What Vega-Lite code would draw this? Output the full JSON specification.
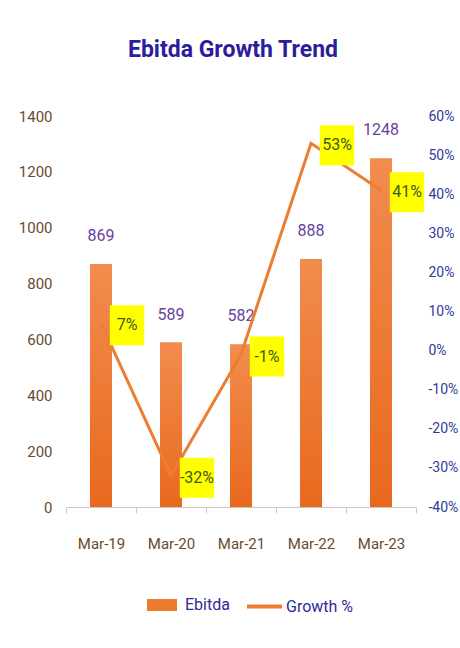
{
  "$schema": "https://vega.github.io/schema/vega-lite/v6.json",
  "width": 350,
  "height": 391,
  "autosize": "none",
  "padding": {"left": 66, "top": 116, "right": 44, "bottom": 141},
  "background": "white",
  "config": {"font": "Roboto", "view": {"stroke": null}},
  "title": {"text": "Ebitda Growth Trend", "fontSize": 23, "fontWeight": "bold", "color": "#2B1D9C", "offset": 47, "dx": -8, "anchor": "middle"},
  "data": {"values": [
    {"period": "Mar-19", "ebitda": 869, "growth": 0.07},
    {"period": "Mar-20", "ebitda": 589, "growth": -0.32},
    {"period": "Mar-21", "ebitda": 582, "growth": -0.01},
    {"period": "Mar-22", "ebitda": 888, "growth": 0.53},
    {"period": "Mar-23", "ebitda": 1248, "growth": 0.41}
  ]},
  "encoding": {
    "x": {"field": "period", "type": "nominal", "sort": null,
      "scale": {"paddingInner": 0, "paddingOuter": 0},
      "axis": {"title": null, "labelAngle": 0, "labelColor": "#6B4A2E", "labelFontSize": 15, "labelPadding": 23, "domainColor": "#C8C8C8", "tickColor": "#C8C8C8", "tickSize": 6, "tickBand": "extent"}}
  },
  "layer": [
    {
      "encoding": {
        "y": {"field": "ebitda", "type": "quantitative",
          "scale": {"domain": [0, 1400], "nice": false},
          "axis": {"title": null, "format": "d", "values": [0, 200, 400, 600, 800, 1000, 1200, 1400], "domain": false, "ticks": false, "grid": false, "labelColor": "#6B4A2E", "labelFontSize": 15, "labelPadding": 14}}
      },
      "layer": [
        {"mark": {"type": "bar", "width": 22},
         "encoding": {"fill": {"datum": "Ebitda", "scale": {"range": ["#EE7A30"]},
           "legend": {"title": null, "orient": "none", "legendX": 81, "legendY": 474, "symbolType": "M-1,-0.4L1,-0.4L1,0.4L-1,0.4Z", "symbolSize": 900, "symbolStrokeWidth": 0, "labelColor": "#2E2A9A", "labelFontSize": 16, "labelOffset": 8}}}},
        {"mark": {"type": "bar", "width": 22, "color": {"gradient": "linear", "x1": 0, "y1": 0, "x2": 0, "y2": 1, "stops": [{"offset": 0, "color": "#F28C4E"}, {"offset": 1, "color": "#E8691E"}]}}},
        {"mark": {"type": "text", "dy": -28, "color": "#6A3FA0", "fontSize": 16, "baseline": "middle"},
         "encoding": {"text": {"field": "ebitda", "type": "quantitative", "format": "d"}}}
      ]
    },
    {
      "transform": [{"calculate": "toString(round(datum.growth*100)) + '%'", "as": "glabel"}],
      "encoding": {
        "y": {"field": "growth", "type": "quantitative",
          "scale": {"domain": [-0.4, 0.6], "nice": false},
          "axis": {"orient": "right", "title": null, "values": [-0.4, -0.3, -0.2, -0.1, 0, 0.1, 0.2, 0.3, 0.4, 0.5, 0.6], "labelExpr": "toString(round(datum.value*100)) + '%'", "domain": false, "ticks": false, "grid": false, "labelColor": "#2F3B9B", "labelFontSize": 14, "labelPadding": 12}}
      },
      "layer": [
        {"mark": {"type": "line", "strokeWidth": 3},
         "encoding": {"stroke": {"datum": "Growth %", "scale": {"range": ["#ED7D31"]},
           "legend": {"title": null, "orient": "none", "legendX": 179, "legendY": 471, "symbolType": "stroke", "symbolSize": 1225, "symbolStrokeWidth": 4, "labelColor": "#2E2A9A", "labelFontSize": 16, "labelOffset": 2}}}},
        {"mark": {"type": "point", "shape": "M-0.86,-1L0.86,-1L0.86,1L-0.86,1Z", "size": 1600, "filled": true, "fill": "#FFFF00", "opacity": 1, "strokeWidth": 0, "xOffset": 26, "yOffset": 2}},
        {"mark": {"type": "text", "xOffset": 26, "yOffset": 2, "color": "#3C5A1E", "fontSize": 16, "baseline": "middle"},
         "encoding": {"text": {"field": "glabel", "type": "nominal"}}}
      ]
    }
  ],
  "resolve": {"scale": {"y": "independent"}}
}
